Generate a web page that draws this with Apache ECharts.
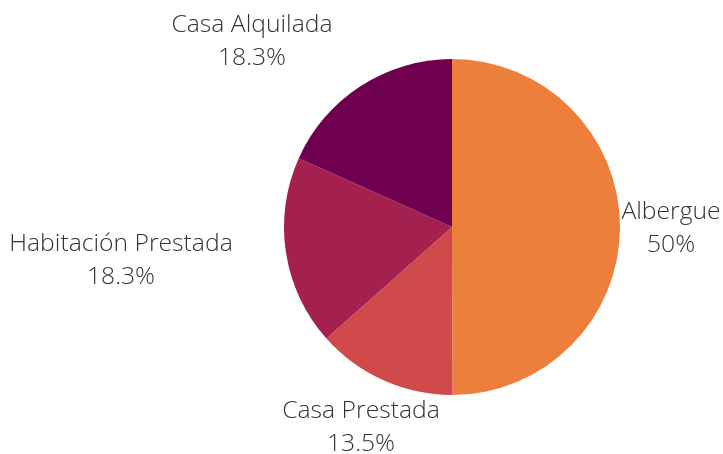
<!DOCTYPE html>
<html>
<head>
<meta charset="utf-8">
<script src="https://cdn.jsdelivr.net/npm/echarts@6/dist/echarts.min.js"></script>
<style>html,body{margin:0;padding:0;background:#fff}#c{width:723px;height:454px}</style>
</head>
<body>
<div id="c"></div>
<script>
const categories = ["Albergue", "Casa Prestada", "Habitación Prestada", "Casa Alquilada"];
const values = [50, 13.5, 18.3, 18.3];
const valueLabels = ["50%", "13.5%", "18.3%", "18.3%"];
const colors = ["#EB7F3B", "#D04A4B", "#A3204F", "#6F0050"];
const labelCenters = [[671, 228], [361, 427], [121, 260], [252, 41]];

const chart = echarts.init(document.getElementById('c'), null, {renderer: 'canvas'});
chart.setOption({
  animation: false,
  series: [{
    type: 'pie',
    center: [452, 227],
    radius: [0, 168],
    startAngle: 90,
    clockwise: true,
    avoidLabelOverlap: false,
    itemStyle: {borderWidth: 0},
    label: {
      show: true,
      position: 'outside',
      formatter: (p) => '{a|' + p.name + '}\n{a|' + valueLabels[p.dataIndex] + '}',
      rich: {
        a: {fontFamily: 'Open Sans', fontWeight: 300, fontSize: 24.7, lineHeight: 33, color: '#333', align: 'center'}
      }
    },
    labelLine: {show: false},
    labelLayout: (params) => ({
      x: labelCenters[params.dataIndex][0],
      y: labelCenters[params.dataIndex][1],
      align: 'center',
      verticalAlign: 'middle'
    }),
    data: categories.map((c, i) => ({name: c, value: values[i], itemStyle: {color: colors[i]}}))
  }]
});
</script>
</body>
</html>
